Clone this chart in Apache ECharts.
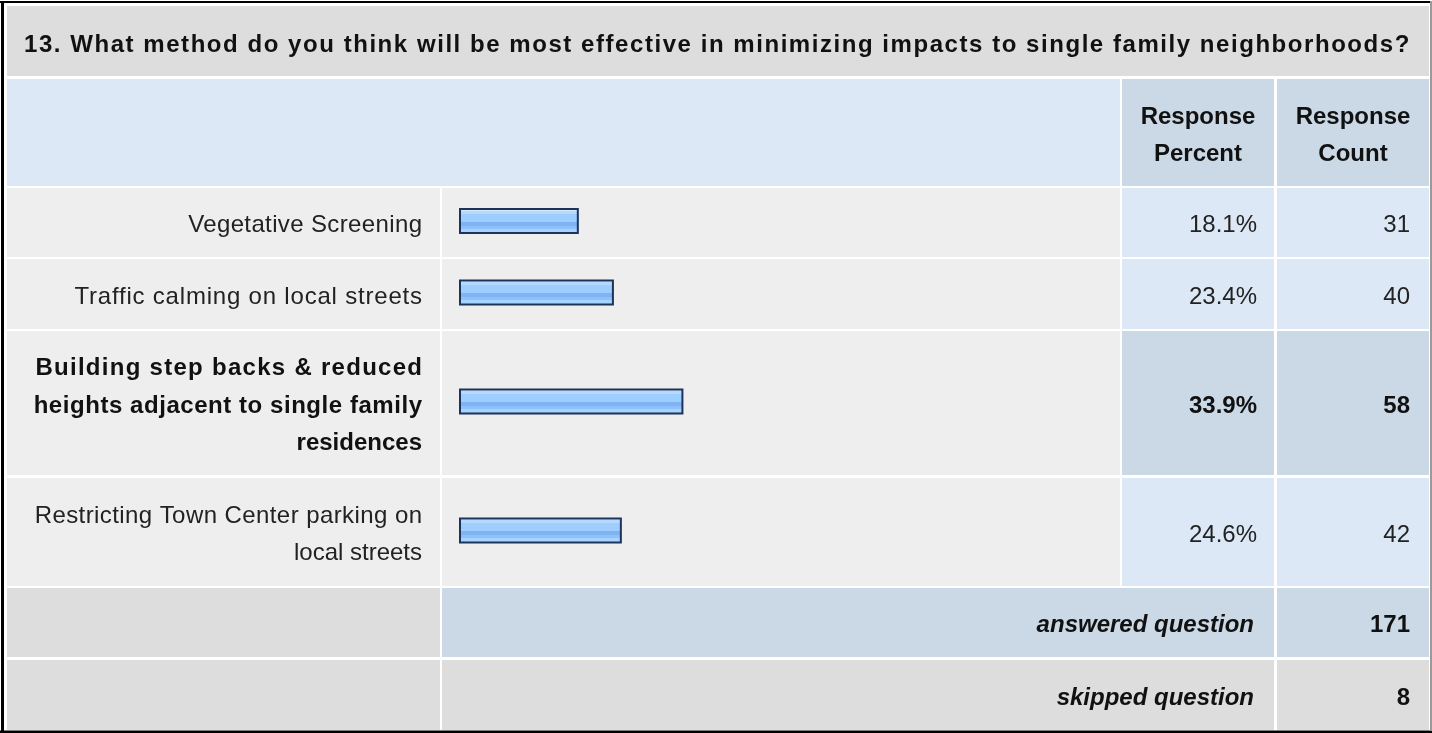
<!DOCTYPE html>
<html>
<head>
<meta charset="utf-8">
<script src="https://cdn.jsdelivr.net/npm/echarts@6/dist/echarts.min.js"></script>
<style>
html,body{margin:0;padding:0;background:#fff;}
#chart{width:1432px;height:733px;}
</style>
</head>
<body>
<div id="chart"></div>
<script>
// ---------- DATA ----------
const questionTitle = '13. What method do you think will be most effective in minimizing impacts to single family neighborhoods?';
const answerChoices = [
  'Vegetative Screening',
  'Traffic calming on local streets',
  'Building step backs & reduced\nheights adjacent to single family\nresidences',
  'Restricting Town Center parking on\nlocal streets'
];
const responsePercent = [18.1, 23.4, 33.9, 24.6];
const responseCount = [31, 40, 58, 42];
const columnHeaders = ['Response\nPercent', 'Response\nCount'];
const summaryLabels = ['answered question', 'skipped question'];
const summaryCounts = [171, 8];

// ---------- LAYOUT ----------
const FONT = "'Liberation Sans', Arial, sans-serif";
const FS = 24;
const colLabel = [7, 440], colBar = [442, 1120], colPct = [1122, 1274], colCnt = [1277, 1429];
const rowTops = [188, 259, 331, 478];
const rowBottoms = [257, 329, 475, 586];
const sumTops = [588, 660], sumBottoms = [657, 730];
const hiIdx = responsePercent.indexOf(Math.max.apply(null, responsePercent));

const C_GRAY = '#dddddd', C_ROW = '#eeeeee', C_BLUE = '#dce8f5', C_BLUE2 = '#cbd8e6';

// letter spacing (px) per text line, mimicking the wider hinted rendering of the original
const lineSpacing = [1.55, 0.37, 0.8, 1.28, 0.55, 0, 0.42, 0];
const spacing = {};
[questionTitle].concat(answerChoices.join('\n').split('\n')).forEach(function (ln, k) {
  spacing[ln] = lineSpacing[k] || 0;
});
(function () {
  const P = CanvasRenderingContext2D.prototype;
  const orig = P.fillText;
  P.fillText = function (t, x, y, w) {
    const s = spacing[t] || 0;
    const hasLS = 'letterSpacing' in this;
    if (hasLS) {
      const f = this.font;
      this.letterSpacing = s + 'px';
      this.font = f;
    }
    const dx = (s && (this.textAlign === 'right' || this.textAlign === 'end')) ? s : 0;
    if (w === undefined) orig.call(this, t, x + dx, y); else orig.call(this, t, x + dx, y, w);
    if (hasLS && s) {
      const f2 = this.font;
      this.letterSpacing = '0px';
      this.font = f2;
    }
  };
})();

const g = [];
function rect(x0, x1, y0, y1, fill) {
  g.push({type: 'rect', z: 0, silent: true, shape: {x: x0, y: y0, width: x1 - x0, height: y1 - y0}, style: {fill: fill}});
}
function text(str, x, y, align, opts) {
  opts = opts || {};
  g.push({type: 'text', z: 10, silent: true, x: x, y: y, style: {
    text: str, fill: opts.color || '#222', font: (opts.style || 'normal') + ' ' + (opts.weight || 'normal') + ' ' + FS + 'px ' + FONT,
    align: align, verticalAlign: 'middle', lineHeight: opts.lh || 36.5
  }});
}

// outer frame
rect(0, 1432, 1, 3, '#000');
rect(1, 4, 1, 733, '#000');
rect(0, 1432, 730.5, 733, '#000');
rect(1430, 1432, 1, 731, '#9a9a9a');

// title
rect(colLabel[0], colCnt[1], 6, 76, C_GRAY);
text(questionTitle, 24, 45, 'left', {weight: 'bold', color: '#111'});

// header
rect(colLabel[0], colBar[1], 79, 186, C_BLUE);
rect(colPct[0], colPct[1], 79, 186, C_BLUE2);
rect(colCnt[0], colCnt[1], 79, 186, C_BLUE2);
text(columnHeaders[0], (colPct[0] + colPct[1]) / 2, 136, 'center', {weight: 'bold', color: '#111'});
text(columnHeaders[1], (colCnt[0] + colCnt[1]) / 2, 136, 'center', {weight: 'bold', color: '#111'});

// body rows
const rowCenters = [];
answerChoices.forEach(function (lab, i) {
  const t = rowTops[i], b = rowBottoms[i], cy = (t + b) / 2;
  rowCenters.push(cy);
  const hi = i === hiIdx;
  rect(colLabel[0], colLabel[1], t, b, C_ROW);
  rect(colBar[0], colBar[1], t, b, C_ROW);
  rect(colPct[0], colPct[1], t, b, hi ? C_BLUE2 : C_BLUE);
  rect(colCnt[0], colCnt[1], t, b, hi ? C_BLUE2 : C_BLUE);
  const o = hi ? {weight: 'bold', color: '#111'} : {};
  o.lh = 37.5;
  text(lab, 422, cy + 3, 'right', o);
  text(responsePercent[i].toFixed(1) + '%', 1257, cy + 3, 'right', o);
  text(String(responseCount[i]), 1410, cy + 3, 'right', o);
});

// summary rows
summaryLabels.forEach(function (lab, i) {
  const t = sumTops[i], b = sumBottoms[i], cy = (t + b) / 2;
  rect(colLabel[0], colLabel[1], t, b, C_GRAY);
  rect(colBar[0], colPct[1], t, b, i === 0 ? C_BLUE2 : C_GRAY);
  rect(colCnt[0], colCnt[1], t, b, i === 0 ? C_BLUE2 : C_GRAY);
  text(lab, 1254, cy + 3, 'right', {weight: 'bold', style: 'italic', color: '#111'});
  text(String(summaryCounts[i]), 1410, cy + 3, 'right', {weight: 'bold', color: '#111'});
});

// ---------- BARS (one grid per row) ----------
const barFill = new echarts.graphic.LinearGradient(0, 0, 0, 1, [
  {offset: 0, color: '#d3eaff'}, {offset: 0.1, color: '#d3eaff'},
  {offset: 0.1, color: '#b6daff'}, {offset: 0.22, color: '#b6daff'},
  {offset: 0.22, color: '#9ecdff'}, {offset: 0.52, color: '#9ecdff'},
  {offset: 0.52, color: '#7fb3f2'}, {offset: 0.68, color: '#7fb3f2'},
  {offset: 0.68, color: '#8ec1fb'}, {offset: 0.8, color: '#8ec1fb'},
  {offset: 0.8, color: '#a6d3ff'}, {offset: 1, color: '#a6d3ff'}
]);
const grids = [], xAxes = [], yAxes = [], series = [];
responsePercent.forEach(function (v, i) {
  const c = rowCenters[i] - 1.5;
  grids.push({left: 459, width: 662, top: c - 20, height: 40, containLabel: false});
  xAxes.push({type: 'value', gridIndex: i, min: 0, max: 100, show: false});
  yAxes.push({type: 'category', gridIndex: i, data: [answerChoices[i]], show: false});
  series.push({
    type: 'bar', xAxisIndex: i, yAxisIndex: i, data: [v], barWidth: 26, z: 5,
    itemStyle: {color: barFill, borderColor: '#1c3459', borderWidth: 2},
    emphasis: {disabled: true}, silent: true
  });
});

const chart = echarts.init(document.getElementById('chart'), null, {renderer: 'canvas'});
chart.setOption({
  animation: false,
  backgroundColor: '#ffffff',
  grid: grids, xAxis: xAxes, yAxis: yAxes, series: series,
  graphic: {elements: g}
});
</script>
</body>
</html>
